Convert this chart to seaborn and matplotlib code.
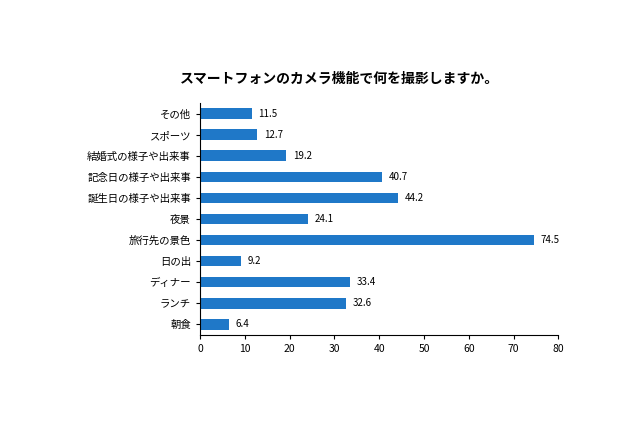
import matplotlib
matplotlib.use("Agg")
import matplotlib.pyplot as plt
import seaborn as sns
import pandas as pd

categories = ["その他", "スポーツ", "結婚式の様子や出来事", "記念日の様子や出来事", "誕生日の様子や出来事",
              "夜景", "旅行先の景色", "日の出", "ディナー", "ランチ", "朝食"]
values = [11.5, 12.7, 19.2, 40.7, 44.2, 24.1, 74.5, 9.2, 33.4, 32.6, 6.4]
xticks = [0, 10, 20, 30, 40, 50, 60, 70, 80]

plt.rcParams["font.family"] = "Noto Sans CJK JP"
df = pd.DataFrame({"cat": categories, "val": values})
fig = plt.figure(figsize=(6.4, 4.26), dpi=100)
ax = fig.add_axes([0.3125, 0.214, 0.56, 0.544])
sns.barplot(data=df, x="val", y="cat", color="#1f78c8", saturation=1, width=0.5, ax=ax)
for i, v in enumerate(values):
    ax.text(v + 1.5, i, f"{v}", va="center", ha="left", fontsize=7)
ax.set_xlim(0, 80)
ax.set_xticks(xticks)
ax.set_xlabel("")
ax.set_ylabel("")
ax.tick_params(axis="both", labelsize=7.5, length=3)
for s in ["top", "right"]:
    ax.spines[s].set_visible(False)
fig.text(0.53, 0.815, "スマートフォンのカメラ機能で何を撮影しますか。", ha="center", va="center",
         fontsize=10, fontweight="bold")
fig.savefig("out.png", dpi=100)
